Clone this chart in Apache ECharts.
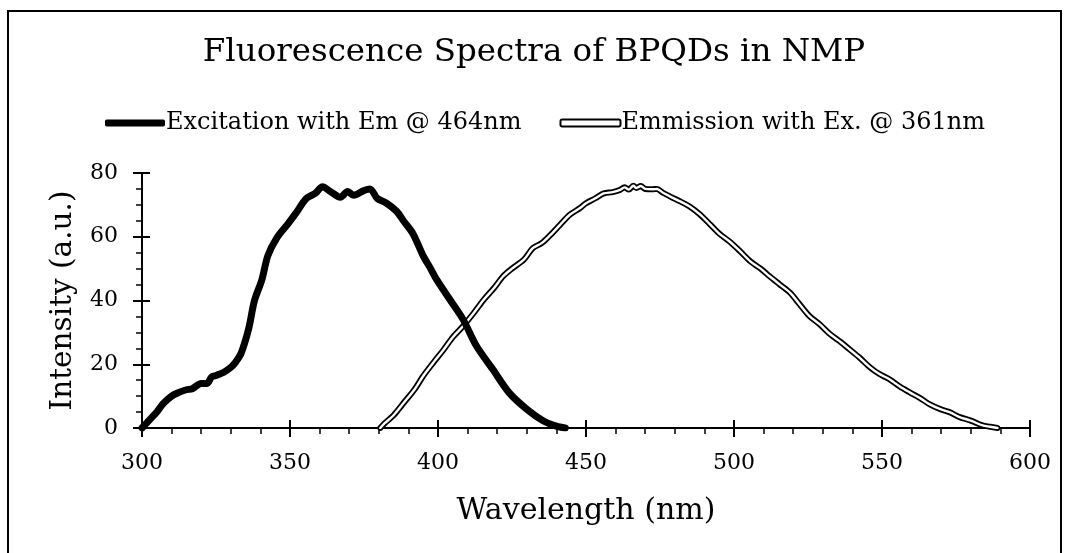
<!DOCTYPE html>
<html><head><meta charset="utf-8">
<script src="https://cdn.jsdelivr.net/npm/echarts@6/dist/echarts.min.js"></script>
<style>html,body{margin:0;padding:0;background:#fff}#c{width:1068px;height:553px}</style>
</head><body><div id="c"></div>
<script>
var titleText = 'Fluorescence Spectra of BPQDs in NMP';
var exName = 'Excitation with Em @ 464nm';
var emName = 'Emmission with Ex. @ 361nm';
var xTicks = [300, 350, 400, 450, 500, 550, 600];
var yTicks = [0, 20, 40, 60, 80];
var exWavelength = [300, 302, 305, 307, 310, 312, 315, 317, 320, 322, 323.5, 325, 327.5, 330, 331.5, 333.5, 336, 338, 340.5, 342.5, 345.5, 349.5, 352, 355.5, 358.5, 361, 363.5, 367, 369.5, 371.5, 375, 377, 379.5, 382.5, 386, 388.5, 391.5, 395, 397.5, 399.5, 404, 408.5, 413, 418.5, 424, 430, 435.5, 440, 443];
var exIntensity = [0, 2, 5, 7.5, 10, 11, 12, 12.3, 14, 14, 16, 16.5, 17.4, 19, 20.5, 23.5, 31, 40, 46.5, 54, 59.6, 64.3, 67.4, 72, 73.6, 75.7, 74.3, 72.4, 74.2, 73, 74.5, 75, 72, 70.6, 68, 64.8, 61, 54, 50, 46.6, 40.3, 34, 25.7, 18.4, 11.1, 5.9, 2.3, 0.6, 0];
var emWavelength = [380.5, 382, 385, 388.5, 392, 395, 398, 402, 405, 408.5, 412, 415.5, 419, 422, 425, 429, 432, 435, 438, 441, 444.5, 448, 450, 453, 456, 459, 461.5, 463, 464.5, 466, 467, 468.5, 470, 472.5, 474, 476, 478.5, 482, 485, 488.5, 492, 495, 498.5, 502, 505.5, 509, 512, 515.5, 519, 522, 525.5, 529, 532.5, 536, 539, 542.5, 546, 549, 552.5, 556, 559.5, 563, 566, 569.5, 573, 576, 580, 584, 586.5, 589];
var emIntensity = [0, 1.5, 4, 8, 12, 16.3, 20, 24.7, 28.5, 32, 36, 40.3, 44, 47.6, 50, 52.8, 56.4, 58, 60.6, 63.5, 66.9, 69, 70.5, 72, 73.6, 74, 74.7, 75.5, 74.8, 76, 75.3, 75.9, 75, 74.9, 75, 73.8, 72.6, 71, 69.5, 67, 63.8, 61, 58.5, 55.5, 52.3, 50, 47.6, 45, 42.4, 39, 35.1, 32.5, 29.4, 27, 24.7, 22, 19, 17, 15.3, 13, 11.1, 9.3, 7.5, 6, 4.9, 3.5, 2.3, 0.8, 0.4, 0];

function zip(a, b) { return a.map(function (v, i) { return [v, b[i]]; }); }
var exData = zip(exWavelength, exIntensity);
var emData = zip(emWavelength, emIntensity);
var FONT = 'DejaVu Serif';
var chart = echarts.init(document.getElementById('c'), null, {renderer: 'canvas'});
var xMin = xTicks[0], xMax = xTicks[xTicks.length - 1];
var yMin = yTicks[0], yMax = yTicks[yTicks.length - 1];
var axisCommon = {color: '#000', width: 2};
chart.setOption({
  backgroundColor: '#fff',
  animation: false,
  title: {text: titleText, left: 'center', top: 31,
    textStyle: {fontFamily: FONT, fontSize: 32.5, fontWeight: 'normal', color: '#000'}},
  legend: {
    left: 100, top: 106, itemGap: 38, itemWidth: 60, itemHeight: 7,
    textStyle: {fontFamily: FONT, fontSize: 24, color: '#000', padding: [0, 0, 0, -4]},
    data: [
      {name: exName, icon: 'roundRect', itemStyle: {color: '#000', borderWidth: 0}},
      {name: emName, icon: 'roundRect', itemStyle: {color: '#fff', borderColor: '#000', borderWidth: 2}}
    ]
  },
  grid: {left: 142, right: 38, top: 173, bottom: 125, containLabel: false},
  xAxis: [{
    type: 'value', min: xMin, max: xMax, interval: 50,
    name: 'Wavelength (nm)', nameLocation: 'middle', nameGap: 68,
    nameTextStyle: {fontFamily: FONT, fontSize: 30, color: '#000'},
    axisLine: {lineStyle: axisCommon},
    axisTick: {show: true, inside: false, length: 9, lineStyle: axisCommon},
    minorTick: {show: true, splitNumber: 5, length: 6, lineStyle: {color: '#000', width: 1.5}},
    axisLabel: {fontFamily: FONT, fontSize: 22, color: '#000', margin: 24},
    splitLine: {show: false}
  }, {
    type: 'value', min: xMin, max: xMax, interval: 50, position: 'bottom',
    axisLine: {show: false},
    axisTick: {show: true, inside: true, length: 8, lineStyle: axisCommon},
    axisLabel: {show: false}, splitLine: {show: false}
  }],
  yAxis: [{
    type: 'value', min: yMin, max: yMax, interval: 20,
    name: 'Intensity (a.u.)', nameLocation: 'middle', nameGap: 64,
    nameTextStyle: {fontFamily: FONT, fontSize: 29.5, color: '#000'},
    axisLine: {show: true, lineStyle: axisCommon},
    axisTick: {show: true, inside: false, length: 9, lineStyle: axisCommon},
    minorTick: {show: true, splitNumber: 4, length: 6, lineStyle: {color: '#000', width: 1.5}},
    axisLabel: {fontFamily: FONT, fontSize: 22, color: '#000', margin: 24},
    splitLine: {show: false}
  }, {
    type: 'value', min: yMin, max: yMax, interval: 20, position: 'left',
    axisLine: {show: false},
    axisTick: {show: true, inside: true, length: 8, lineStyle: axisCommon},
    axisLabel: {show: false}, splitLine: {show: false}
  }],
  series: [
    {name: exName, type: 'line', data: exData, showSymbol: false, symbol: 'none', smooth: 0.3,
      lineStyle: {color: '#000', width: 7, cap: 'round', join: 'round'}, itemStyle: {color: '#000'}, z: 3},
    {name: emName, type: 'line', data: emData, showSymbol: false, symbol: 'none', smooth: 0.3,
      lineStyle: {color: '#000', width: 6, cap: 'round', join: 'round'}, itemStyle: {color: '#fff'}, z: 2},
    {name: 'emInner', type: 'line', data: emData, showSymbol: false, symbol: 'none', smooth: 0.3,
      lineStyle: {color: '#fff', width: 2.4, cap: 'round', join: 'round'}, z: 2}
  ],
  graphic: [{type: 'rect', shape: {x: 8, y: 11, width: 1053, height: 600},
    style: {fill: 'none', stroke: '#000', lineWidth: 2}, silent: true, z: -1}]
});
</script></body></html>
